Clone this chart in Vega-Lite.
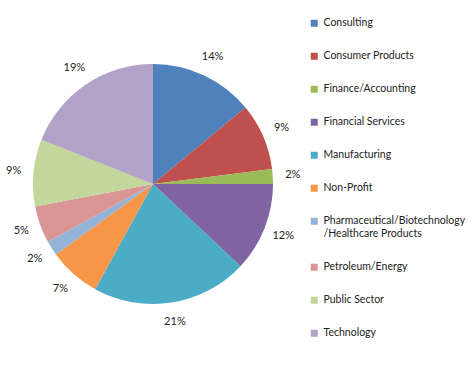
{
  "$schema": "https://vega.github.io/schema/vega-lite/v6.json",
  "width": 306,
  "height": 368,
  "autosize": {"type": "none"},
  "padding": {"left": 0, "top": 0, "right": 168, "bottom": 1},
  "background": "white",
  "config": {"view": {"stroke": null}, "font": "Lato"},
  "data": {"values": [
    {"sector": "Consulting", "pct": 14, "label": "14%", "ord": 1},
    {"sector": "Consumer Products", "pct": 9, "label": "9%", "ord": 2},
    {"sector": "Finance/Accounting", "pct": 2, "label": "2%", "ord": 3},
    {"sector": "Financial Services", "pct": 12, "label": "12%", "ord": 4},
    {"sector": "Manufacturing", "pct": 21, "label": "21%", "ord": 5},
    {"sector": "Non-Profit", "pct": 7, "label": "7%", "ord": 6},
    {"sector": "Pharmaceutical/Biotechnology/Healthcare Products", "pct": 2, "label": "2%", "ord": 7},
    {"sector": "Petroleum/Energy", "pct": 5, "label": "5%", "ord": 8},
    {"sector": "Public Sector", "pct": 9, "label": "9%", "ord": 9},
    {"sector": "Technology", "pct": 19, "label": "19%", "ord": 10}
  ]},
  "encoding": {
    "theta": {"field": "pct", "type": "quantitative", "stack": true},
    "order": {"field": "ord", "type": "quantitative"},
    "color": {
      "field": "sector", "type": "nominal",
      "scale": {
        "domain": ["Consulting", "Consumer Products", "Finance/Accounting", "Financial Services", "Manufacturing", "Non-Profit", "Pharmaceutical/Biotechnology/Healthcare Products", "Petroleum/Energy", "Public Sector", "Technology"],
        "range": ["#4F81BD", "#C0504D", "#9BBB59", "#8064A2", "#4BACC6", "#F79646", "#95B3D7", "#D99694", "#C3D69B", "#B3A2C7"]
      },
      "legend": {
        "title": null,
        "orient": "none",
        "legendX": 309,
        "legendY": 18,
        "symbolType": "square",
        "symbolSize": 49,
        "symbolStrokeWidth": 0,
        "labelFont": "Lato",
        "labelFontSize": 10.5,
        "labelColor": "#222222",
        "labelOffset": 4,
        "rowPadding": 22,
        "labelLimit": 200,
        "labelExpr": "datum.label == 'Pharmaceutical/Biotechnology/Healthcare Products' ? ['Pharmaceutical/Biotechnology', '/Healthcare Products'] : datum.label"
      }
    }
  },
  "layer": [
    {"mark": {"type": "arc", "outerRadius": 120}},
    {
      "mark": {"type": "text", "radius": 140, "font": "Lato", "fontSize": 11, "color": "#222222"},
      "encoding": {
        "text": {"field": "label", "type": "nominal"},
        "color": {"value": "#222222"}
      }
    }
  ]
}
